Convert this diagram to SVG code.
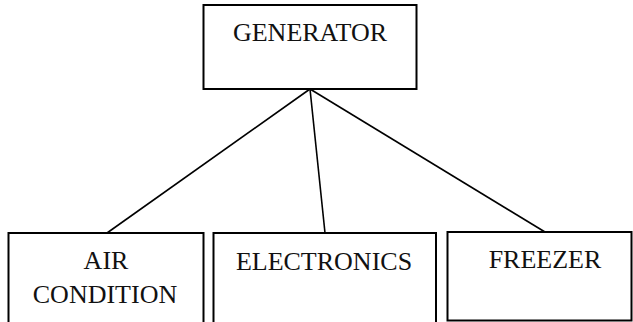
<svg xmlns="http://www.w3.org/2000/svg" width="633" height="322" viewBox="0 0 633 322">
  <style>
    .box { fill: #ffffff; stroke: #000000; stroke-width: 2; }
    .link { stroke: #000000; stroke-width: 1.6; fill: none; }
    .label { font-size: 26px; fill: #111111; text-anchor: middle; }
  </style>
  <rect width="633" height="322" fill="#ffffff"/>

  <!-- connectors from the generator to each load -->
  <g id="connectors">
    <line class="link" x1="310" y1="89" x2="107" y2="233"/>
    <line class="link" x1="310" y1="89" x2="325" y2="233"/>
    <line class="link" x1="310" y1="89" x2="545" y2="232"/>
  </g>

  <g font-family="'Liberation Serif', 'DejaVu Serif', serif">
    <g id="generator">
      <rect class="box" x="203.5" y="5" width="213" height="84"/>
      <text class="label" x="310" y="41">GENERATOR</text>
    </g>

    <g id="air-condition">
      <rect class="box" x="8.5" y="233" width="195" height="100"/>
      <text class="label" x="106" y="269">AIR</text>
      <text class="label" x="105" y="303">CONDITION</text>
    </g>

    <g id="electronics">
      <rect class="box" x="213.5" y="233" width="222.5" height="100"/>
      <text class="label" x="324" y="270">ELECTRONICS</text>
    </g>

    <g id="freezer">
      <rect class="box" x="447.5" y="232" width="184" height="88.5"/>
      <text class="label" x="545" y="268">FREEZER</text>
    </g>
  </g>
</svg>
